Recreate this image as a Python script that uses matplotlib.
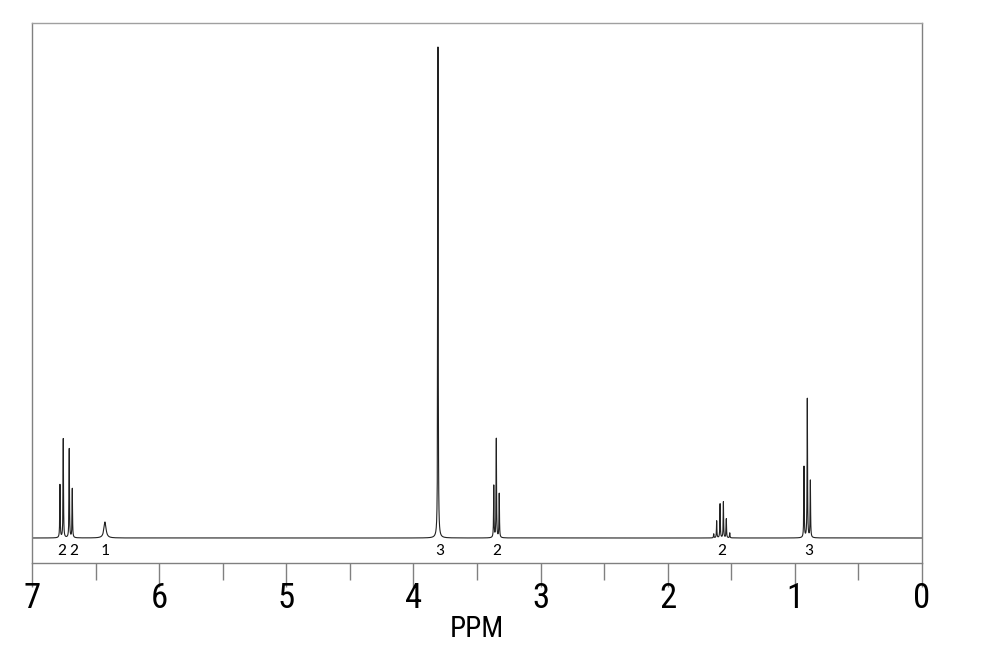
import numpy as np
import matplotlib
matplotlib.use("Agg")
import matplotlib.pyplot as plt
from matplotlib.ticker import MultipleLocator

# peak list (ppm, intensity, half width)
peak_ppm = [6.780, 6.754, 6.707, 6.683, 6.426,
            3.807,
            3.368, 3.348, 3.325,
            1.638, 1.615, 1.588, 1.562, 1.539, 1.512,
            0.928, 0.902, 0.878]
peak_height = [53, 99, 89, 49, 16,
               491,
               52, 99, 44,
               4, 17, 34, 36, 19, 5,
               71, 139, 57]
peak_width = [0.002, 0.002, 0.002, 0.002, 0.01,
              0.002,
              0.002, 0.002, 0.002,
              0.002, 0.002, 0.002, 0.002, 0.002, 0.002,
              0.002, 0.002, 0.002]

# integration labels
integ_ppm = [6.765, 6.675, 6.426, 3.795, 3.345, 1.575, 0.895]
integ_text = ["2", "2", "1", "3", "2", "2", "3"]

narrow = ["Arial Narrow", "Liberation Sans Narrow", "Roboto Condensed",
          "Archivo Narrow", "PT Sans Narrow", "IBM Plex Sans Condensed", "DejaVu Sans"]

x = np.linspace(0, 7, 140001)
y = np.zeros_like(x)
for p, h, w in zip(peak_ppm, peak_height, peak_width):
    y += h * w**2 / ((x - p)**2 + w**2)

fig = plt.figure(figsize=(9.87, 6.52), dpi=100)
ax = fig.add_axes([32/987, 1 - 563/652, 890/987, 540/652])
ax.plot(x, y, color="#222222", lw=0.8)
ax.set_xlim(7, 0)
ax.set_ylim(-25, 515)

for s in ax.spines.values():
    s.set_color("#808080")
    s.set_linewidth(1.0)
ax.spines["top"].set_color("#a0a0a0")

ax.set_yticks([])
ax.xaxis.set_major_locator(MultipleLocator(1))
ax.xaxis.set_minor_locator(MultipleLocator(0.5))
ax.tick_params(axis="x", which="major", length=17, width=1, color="#808080",
               pad=-3, labelsize=25)
ax.tick_params(axis="x", which="minor", length=12, width=1, color="#808080")
for lab in ax.get_xticklabels():
    lab.set_family(narrow)

ax.set_xlabel("PPM", fontsize=21, family=narrow, labelpad=-0.5)

for p, t in zip(integ_ppm, integ_text):
    ax.text(p, -13, t, ha="center", va="center", fontsize=12.5,
            family=["Carlito", "Open Sans", "DejaVu Sans"])

fig.savefig("out.png", dpi=100)
